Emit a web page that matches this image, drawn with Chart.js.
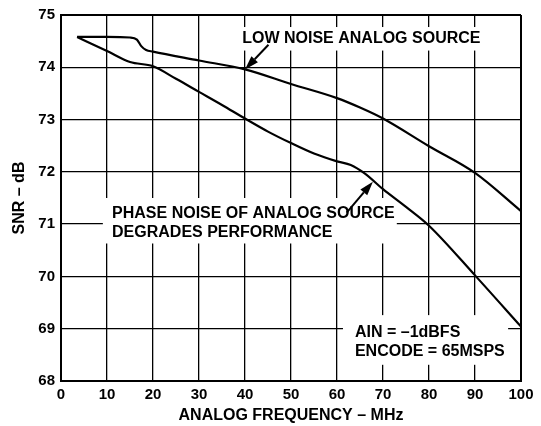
<!DOCTYPE html>
<html>
<head>
<meta charset="utf-8">
<script src="https://cdn.jsdelivr.net/npm/chart.js@4/dist/chart.umd.min.js"></script>
<style>
  html, body { margin: 0; padding: 0; background: #fff; }
  #wrap { width: 541px; height: 426px; position: relative; }
</style>
</head>
<body>
<div id="wrap"><canvas id="myChart"></canvas></div>
<script>
// curve: low noise source
const lowNoiseX = [3.5, 10, 15, 16.5, 17.5, 18.5, 20, 30, 40, 50, 60, 65, 70, 80, 90, 100];
const lowNoiseY = [74.58, 74.58, 74.57, 74.53, 74.4, 74.33, 74.3, 74.13, 73.96, 73.68, 73.41, 73.23, 73.02, 72.49, 71.98, 71.25];

// curve with phase noise of the source
const phaseNoiseX = [3.5, 10, 15, 20, 25, 30, 35, 40, 45, 50, 55, 60, 63, 66, 70, 75, 80, 90, 100];
const phaseNoiseY = [74.58, 74.31, 74.1, 74.02, 73.78, 73.53, 73.28, 73.02, 72.77, 72.55, 72.35, 72.2, 72.13, 71.97, 71.67, 71.33, 70.97, 70.02, 69.04];

const xTicks = [0, 10, 20, 30, 40, 50, 60, 70, 80, 90, 100];
const yTicks = [68, 69, 70, 71, 72, 73, 74, 75];

const FONT = '"Liberation Sans", Arial, Helvetica, sans-serif';

function toPoints(xs, ys) {
  return xs.map((x, i) => ({ x: x, y: ys[i] }));
}

// white boxes behind the notes, text, arrows and axis titles
const notes = {
  id: 'notes',
  beforeDatasetsDraw(chart) {
    const c = chart.ctx;
    const X = v => chart.scales.x.getPixelForValue(v);
    const Y = v => chart.scales.y.getPixelForValue(v);
    const boxes = [
      [38.3, 74.77, 91.7, 74.32],
      [9.1, 71.50, 73.0, 70.63],
      [61.3, 69.26, 97.2, 68.31]
    ];
    c.save();
    c.fillStyle = '#fff';
    boxes.forEach(b => {
      c.fillRect(X(b[0]), Y(b[1]), X(b[2]) - X(b[0]), Y(b[3]) - Y(b[1]));
    });
    c.restore();
  },
  afterDatasetsDraw(chart) {
    const c = chart.ctx;
    const X = v => chart.scales.x.getPixelForValue(v);
    const Y = v => chart.scales.y.getPixelForValue(v);
    c.save();
    c.fillStyle = '#000';
    c.font = 'bold 16px ' + FONT;
    c.textAlign = 'left';
    c.textBaseline = 'middle';
    c.fillText('LOW NOISE ANALOG SOURCE', X(39.4), Y(74.54));
    c.fillText('PHASE NOISE OF ANALOG SOURCE', X(11.1), Y(71.20));
    c.fillText('DEGRADES PERFORMANCE', X(11.1), Y(70.83));
    c.fillText('AIN = \u20131dBFS', X(63.9), Y(68.92));
    c.fillText('ENCODE = 65MSPS', X(63.9), Y(68.56));

    function arrow(x1, y1, x2, y2) {
      const ax = X(x1), ay = Y(y1), bx = X(x2), by = Y(y2);
      const ang = Math.atan2(by - ay, bx - ax);
      const len = 14, half = 4.5;
      const hx = bx - len * Math.cos(ang), hy = by - len * Math.sin(ang);
      c.strokeStyle = '#000';
      c.lineWidth = 2;
      c.beginPath();
      c.moveTo(ax, ay);
      c.lineTo(hx, hy);
      c.stroke();
      c.beginPath();
      c.moveTo(bx, by);
      c.lineTo(hx + half * Math.sin(ang), hy - half * Math.cos(ang));
      c.lineTo(hx - half * Math.sin(ang), hy + half * Math.cos(ang));
      c.closePath();
      c.fill();
    }
    arrow(45.1, 74.43, 40, 73.96);
    arrow(62.1, 71.22, 67.8, 71.81);

    // axis titles
    const area = chart.chartArea;
    c.textAlign = 'center';
    c.fillText('ANALOG FREQUENCY \u2013 MHz', (area.left + area.right) / 2, 416);
    c.translate(20, (area.top + area.bottom) / 2);
    c.rotate(-Math.PI / 2);
    c.fillText('SNR \u2013 dB', 0, 0);
    c.restore();
  }
};

const edgeWidth = (lo, hi) => ctx => (ctx.tick && (ctx.tick.value === lo || ctx.tick.value === hi)) ? 2 : 1.3;

const config = {
  type: 'scatter',
  data: {
    datasets: [{
      label: 'Low noise analog source',
      data: toPoints(lowNoiseX, lowNoiseY),
      showLine: true,
      borderColor: '#000',
      borderWidth: 2.2,
      pointRadius: 0,
      cubicInterpolationMode: 'monotone'
    }, {
      label: 'Phase noise of analog source',
      data: toPoints(phaseNoiseX, phaseNoiseY),
      showLine: true,
      borderColor: '#000',
      borderWidth: 2.2,
      pointRadius: 0,
      cubicInterpolationMode: 'monotone'
    }]
  },
  options: {
    responsive: true,
    maintainAspectRatio: false,
    animation: false,
    devicePixelRatio: 1,
    layout: { padding: { left: 0, right: 20, top: 13, bottom: 0 } },
    plugins: {
      legend: { display: false },
      tooltip: { enabled: false }
    },
    scales: {
      x: {
        type: 'linear',
        min: 0,
        max: 100,
        afterFit: s => { s.height = 45; },
        afterBuildTicks: s => { s.ticks = xTicks.map(v => ({ value: v })); },
        grid: { color: '#000', lineWidth: edgeWidth(0, 100), drawTicks: false },
        border: { color: '#000', width: 2 },
        ticks: {
          color: '#000',
          padding: 5,
          maxRotation: 0,
          font: { family: FONT, size: 15, weight: 'bold' }
        }
      },
      y: {
        type: 'linear',
        min: 68,
        max: 75,
        afterFit: s => { s.width = 61; },
        afterBuildTicks: s => { s.ticks = yTicks.map(v => ({ value: v })); },
        grid: { color: '#000', lineWidth: edgeWidth(68, 75), drawTicks: false },
        border: { color: '#000', width: 2 },
        ticks: {
          color: '#000',
          padding: 6,
          font: { family: FONT, size: 15, weight: 'bold' }
        }
      }
    }
  },
  plugins: [notes]
};

const myChart = new Chart(document.getElementById('myChart'), config);
</script>
</body>
</html>
